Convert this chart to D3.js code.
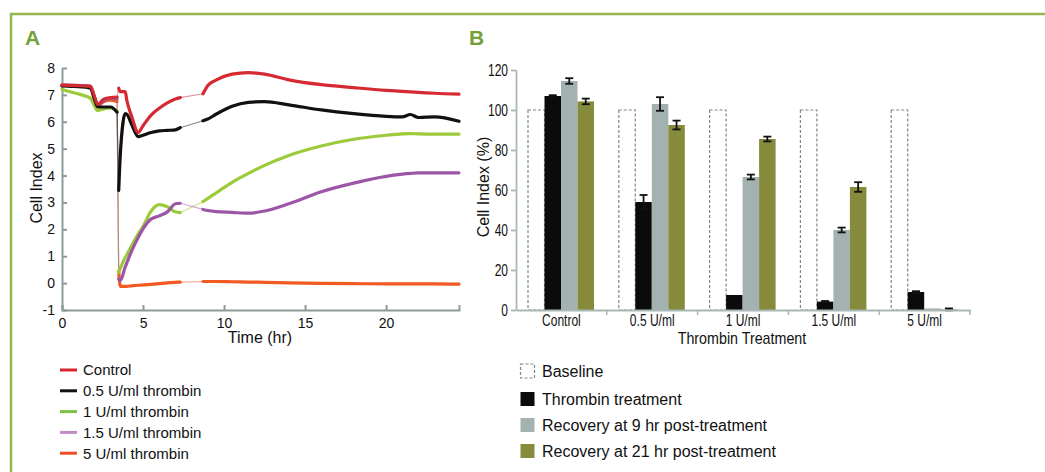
<!DOCTYPE html>
<html>
<head>
<meta charset="utf-8">
<script src="https://cdn.jsdelivr.net/npm/d3@7"></script>
<style>
  body { margin: 0; background: #fff; }
  svg { display: block; font-family: Arial, "Liberation Sans", sans-serif; }
</style>
</head>
<body>
<svg id="fig" width="1045" height="472"></svg>
<script>
// ---- Panel A data: cell index vs time (hr) ----
const hours   = [0, 0.6, 1.2, 1.75, 2.0, 2.2, 2.6, 3.0, 3.4, 3.5, 3.6, 3.9, 4.0, 4.3, 4.7, 5.0, 5.5, 6.0, 6.5, 7.0, 7.3, 8.7, 9.0, 9.5, 10.5, 11.5, 12.5, 14, 16, 18, 20, 21, 21.5, 22, 23, 24.5];
const control = [7.36, 7.35, 7.34, 7.32, 6.95, 6.65, 6.85, 6.9, 6.92, 7.25, 7.12, 7.12, 6.8, 6.2, 5.6, 5.85, 6.25, 6.5, 6.7, 6.85, 6.9, 7.04, 7.35, 7.55, 7.77, 7.83, 7.77, 7.56, 7.38, 7.27, 7.17, 7.13, 7.11, 7.09, 7.06, 7.03];
const dose05  = [7.33, 7.32, 7.3, 7.25, 6.85, 6.55, 6.55, 6.55, 6.35, 3.45, 4.8, 6.3, 6.28, 5.9, 5.45, 5.5, 5.6, 5.66, 5.68, 5.7, 5.78, 6.04, 6.1, 6.28, 6.58, 6.72, 6.75, 6.63, 6.44, 6.3, 6.2, 6.18, 6.27, 6.16, 6.18, 6.02];
const dose1   = [7.2, 7.1, 7.0, 6.88, 6.6, 6.42, 6.48, 6.52, 6.4, 0.4, 0.55, 0.95, 1.05, 1.4, 1.82, 2.1, 2.68, 2.92, 2.84, 2.65, 2.62, 3.03, 3.15, 3.35, 3.75, 4.08, 4.38, 4.75, 5.1, 5.35, 5.5, 5.55, 5.56, 5.55, 5.54, 5.54];
const dose15  = [7.36, 7.36, 7.35, 7.33, 6.9, 6.6, 6.8, 6.88, 6.85, 0.15, 0.1, 0.6, 0.75, 1.2, 1.7, 2.02, 2.38, 2.5, 2.65, 2.95, 2.97, 2.74, 2.7, 2.66, 2.63, 2.6, 2.68, 2.95, 3.4, 3.72, 3.97, 4.05, 4.08, 4.1, 4.1, 4.1];
const dose5   = [7.36, 7.35, 7.34, 7.3, 6.9, 6.62, 6.75, 6.8, 6.75, 0.45, -0.12, -0.12, -0.12, -0.1, -0.08, -0.07, -0.05, -0.02, 0.01, 0.03, 0.04, 0.06, 0.06, 0.06, 0.05, 0.04, 0.03, 0.01, -0.01, -0.02, -0.03, -0.03, -0.03, -0.03, -0.03, -0.04];
const readingGaps = [3.45, 8]; // no readings here (thrombin added / recovery media change)
const lineNames = ["Control", "0.5 U/ml thrombin", "1 U/ml thrombin", "1.5 U/ml thrombin", "5 U/ml thrombin"];
const timeTicks = [0, 5, 10, 15, 20];
const ciTicks = [-1, 0, 1, 2, 3, 4, 5, 6, 7, 8];

// ---- Panel B data: cell index (% of baseline) ----
const doses = ["Control", "0.5 U/ml", "1 U/ml", "1.5 U/ml", "5 U/ml"];
const barNames = ["Baseline", "Thrombin treatment", "Recovery at 9 hr post-treatment", "Recovery at 21 hr post-treatment"];
const baseline   = [100, 100, 100, 100, 100];
const treated    = [107, 54, 7.5, 4.2, 9];
const treatedErr = [0.4, 3.5, 0, 0.3, 0.4];
const rec9       = [114.5, 103, 66.5, 40, 0.8];
const rec9Err    = [1.4, 3.4, 1.2, 1.2, 0];
const rec21      = [104.3, 92.5, 85.5, 61.5, 0.3];
const rec21Err   = [1.4, 2.2, 1.2, 2.4, 0.5];
const pctTicks = [0, 20, 40, 60, 80, 100, 120];

// colours
const lineColor = ["#d52a32", "#111111", "#9dca3a", "#9c56a6", "#f15a22"];
const legendLineColor = ["#d9252f", "#111111", "#7cc242", "#c08bc6", "#ef4e26"];
const barColor = ["#ffffff", "#0b0b0b", "#a3b1b0", "#868a3b"];
const frameGreen = "#93b74d";

const svg = d3.select("#fig");

// squeeze text horizontally (narrow face look)
function narrow(sel, k) {
  sel.each(function () {
    const w = this.getComputedTextLength();
    d3.select(this).attr("textLength", w * k).attr("lengthAdjust", "spacingAndGlyphs");
  });
}

// frame + panel letters
svg.append("line").attr("x1", 10).attr("x2", 1045).attr("y1", 14).attr("y2", 14)
  .attr("stroke", frameGreen).attr("stroke-width", 2.5);
svg.append("line").attr("x1", 11).attr("x2", 11).attr("y1", 13).attr("y2", 472)
  .attr("stroke", frameGreen).attr("stroke-width", 2.5);
svg.append("text").attr("x", 25).attr("y", 45).text("A")
  .attr("font-size", 21).attr("font-weight", "bold").attr("fill", "#74a03a");
svg.append("text").attr("x", 469).attr("y", 45).text("B")
  .attr("font-size", 21).attr("font-weight", "bold").attr("fill", "#74a03a");

// ================= Panel A =================
const xA = d3.scaleLinear().domain([0, 24.5]).range([62, 459]);
const yA = d3.scaleLinear().domain([-1, 8]).range([310, 68]);
const axisGray = "#8b9b9b";

const gA = svg.append("g");

const ax = gA.append("g").attr("transform", "translate(0,310)")
  .call(d3.axisBottom(xA).tickValues(timeTicks).tickSize(-5).tickSizeOuter(-5).tickPadding(8));
const ay = gA.append("g").attr("transform", "translate(62,0)")
  .call(d3.axisLeft(yA).tickValues(ciTicks).tickFormat(d => String(d))
    .tickSize(-5).tickSizeOuter(0).tickPadding(7));
[ax, ay].forEach(a => {
  a.selectAll("path, line").attr("stroke", axisGray).attr("stroke-width", 2);
  a.selectAll("text").attr("font-size", 14).attr("fill", "#111").attr("font-family", null);
});

gA.append("text").attr("x", 260).attr("y", 343).attr("text-anchor", "middle")
  .attr("font-size", 16).attr("fill", "#111").text("Time (hr)");
gA.append("text").attr("transform", "translate(42,188) rotate(-90)").attr("text-anchor", "middle")
  .attr("font-size", 16).attr("fill", "#111").text("Cell Index");

const seriesA = [control, dose05, dose1, dose15, dose5].map((vals, i) => ({
  name: lineNames[i], color: lineColor[i],
  pts: hours.map((t, j) => ({ t, v: vals[j] }))
}));

const thinLine = d3.line().x(d => xA(d.t)).y(d => yA(d.v));
const thickLine = d3.line().x(d => xA(d.t)).y(d => yA(d.v)).curve(d3.curveMonotoneX);

// split a series into runs of real readings
function runs(pts) {
  const edges = [-Infinity, ...readingGaps, Infinity];
  return d3.range(edges.length - 1).map(k => pts.filter(p => p.t > edges[k] && p.t < edges[k + 1]));
}

const drawOrder = [4, 2, 3, 1, 0];
const linesG = gA.append("g");
drawOrder.forEach(i => {
  const s = seriesA[i];
  linesG.append("path").attr("d", thinLine(s.pts)).attr("fill", "none")
    .attr("stroke", s.color).attr("stroke-opacity", 0.5).attr("stroke-width", 1.2);
});
drawOrder.forEach(i => {
  const s = seriesA[i];
  runs(s.pts).forEach(r => {
    linesG.append("path").attr("d", thickLine(r)).attr("fill", "none")
      .attr("stroke", s.color).attr("stroke-width", 3.2)
      .attr("stroke-linejoin", "round").attr("stroke-linecap", "round");
  });
});

// legend A
const legA = gA.append("g").selectAll("g").data(lineNames).join("g")
  .attr("transform", (d, i) => `translate(60,${370 + i * 20.8})`);
legA.append("line").attr("x1", 0).attr("x2", 17).attr("stroke-width", 3)
  .attr("stroke", (d, i) => legendLineColor[i]);
legA.append("text").attr("x", 23).attr("dy", "0.36em").attr("font-size", 15).attr("fill", "#111").text(d => d);

// ================= Panel B =================
const xB = d3.scaleBand().domain(doses).range([516, 970]).padding(0);
const xSub = d3.scaleBand().domain(barNames).range([12, 78]).padding(0);
const yB = d3.scaleLinear().domain([0, 120]).range([310, 70]);
const axisLight = "#a9b7b7";

const gB = svg.append("g");

const barValues = [baseline, treated, rec9, rec21];
const barErrs = [null, treatedErr, rec9Err, rec21Err];
const bars = [];
doses.forEach((dose, i) => {
  barNames.forEach((name, k) => {
    bars.push({ dose, name, k, v: barValues[k][i], e: barErrs[k] ? barErrs[k][i] : null });
  });
});

gB.selectAll("rect.bar").data(bars).join("rect").attr("class", "bar")
  .attr("x", d => xB(d.dose) + xSub(d.name))
  .attr("y", d => yB(Math.max(d.v, 0)))
  .attr("width", xSub.bandwidth())
  .attr("height", d => yB(0) - yB(Math.max(d.v, 0)))
  .attr("fill", d => barColor[d.k])
  .attr("stroke", d => d.k === 0 ? "#7b8888" : "none")
  .attr("stroke-width", 1.2)
  .attr("stroke-dasharray", d => d.k === 0 ? "3,2" : null);

// error bars
const errBars = bars.filter(d => d.e !== null && d.e > 0);
const eb = gB.selectAll("g.err").data(errBars).join("g").attr("class", "err")
  .attr("transform", d => `translate(${xB(d.dose) + xSub(d.name) + xSub.bandwidth() / 2},0)`)
  .attr("stroke", "#111").attr("stroke-width", 1.8);
eb.append("line").attr("y1", d => yB(d.v - d.e)).attr("y2", d => yB(d.v + d.e));
eb.append("line").attr("x1", -4).attr("x2", 4).attr("y1", d => yB(d.v + d.e)).attr("y2", d => yB(d.v + d.e));
eb.append("line").attr("x1", -4).attr("x2", 4).attr("y1", d => yB(d.v - d.e)).attr("y2", d => yB(d.v - d.e));

// axes B
const byAx = gB.append("g").attr("transform", "translate(516,0)")
  .call(d3.axisLeft(yB).tickValues(pctTicks).tickSize(5).tickSizeOuter(0).tickPadding(3));
const bxAx = gB.append("g").attr("transform", "translate(0,310)")
  .call(d3.axisBottom(xB).tickSize(0).tickSizeOuter(0).tickPadding(5));
gB.append("g").selectAll("line").data(doses).join("line")
  .attr("x1", d => xB(d) + xB.bandwidth()).attr("x2", d => xB(d) + xB.bandwidth())
  .attr("y1", 310).attr("y2", 315).attr("stroke", axisLight).attr("stroke-width", 1.5);
[byAx, bxAx].forEach(a => {
  a.selectAll("path, line").attr("stroke", axisLight).attr("stroke-width", 1.8);
  a.selectAll("text").attr("font-size", 16).attr("fill", "#111").attr("font-family", null)
    .call(narrow, 0.75);
});

gB.append("text").attr("x", 742).attr("y", 344).attr("text-anchor", "middle")
  .attr("font-size", 17).attr("fill", "#111").text("Thrombin Treatment").call(narrow, 0.84);
gB.append("text").attr("transform", "translate(489,187) rotate(-90)").attr("text-anchor", "middle")
  .attr("font-size", 16).attr("fill", "#111").text("Cell Index (%)");

// legend B
const legB = gB.append("g").selectAll("g").data(barNames).join("g")
  .attr("transform", (d, i) => `translate(520,${i === 0 ? 371 : 373 + i * 26})`);
legB.append("rect").attr("x", 0.5).attr("y", -7).attr("width", 14).attr("height", 14)
  .attr("fill", (d, i) => i === 0 ? "#fff" : barColor[i])
  .attr("stroke", (d, i) => i === 0 ? "#7b8888" : "none")
  .attr("stroke-dasharray", "3,2").attr("stroke-width", 1.2);
legB.append("text").attr("x", 22).attr("dy", "0.36em").attr("font-size", 16).attr("fill", "#111").text(d => d);
</script>
</body>
</html>
